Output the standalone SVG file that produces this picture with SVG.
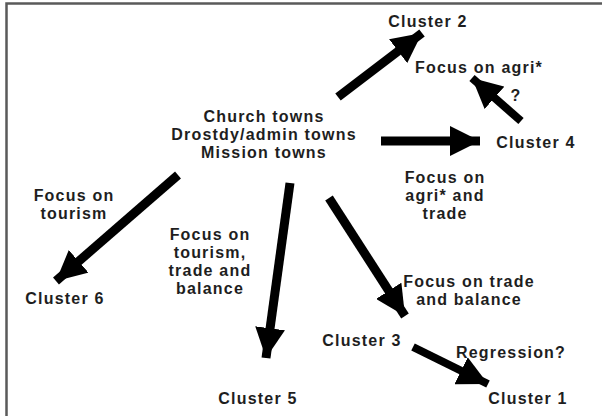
<svg xmlns="http://www.w3.org/2000/svg" width="602" height="416" viewBox="0 0 602 416">
<defs>
<style>
text{font-family:"Liberation Sans",Arial,sans-serif;font-weight:bold;font-size:16px;letter-spacing:1.2px;fill:#1e1e1e;text-anchor:middle}
.arr{stroke:#000;stroke-width:9;fill:none}
.arr2{stroke:#000;stroke-width:8;fill:none}
</style>
<marker id="ah" markerUnits="userSpaceOnUse" markerWidth="30" markerHeight="30" viewBox="0 0 24 24" refX="24" refY="12" orient="auto">
<path d="M0,0 L24,12 L0,24 Z" fill="#000"/>
</marker>
</defs>
<rect width="602" height="416" fill="#fff"/>
<path d="M6.5,416 V3.5 H602" fill="none" stroke="#5a5a5a" stroke-width="2.5"/>
<g id="connectors">
<line class="arr" x1="338" y1="97" x2="422" y2="33" marker-end="url(#ah)"/>
<line class="arr2" x1="521" y1="121" x2="472" y2="78" marker-end="url(#ah)"/>
<line class="arr" x1="381" y1="141" x2="480" y2="141" marker-end="url(#ah)"/>
<line class="arr" x1="178" y1="175" x2="56" y2="281" marker-end="url(#ah)"/>
<line class="arr" x1="290" y1="183" x2="266" y2="358" marker-end="url(#ah)"/>
<line class="arr" x1="329" y1="198" x2="405" y2="316" marker-end="url(#ah)"/>
<line class="arr2" x1="413" y1="347" x2="488" y2="384" marker-end="url(#ah)"/>
</g>
<g id="origin">
<text x="264" y="122">Church towns</text>
<text x="264" y="140">Drostdy/admin towns</text>
<text x="264" y="158">Mission towns</text>
</g>
<g id="cluster2"><text x="428" y="27">Cluster 2</text></g>
<g id="agri"><text x="479" y="73">Focus on agri*</text></g>
<g id="q"><text x="516" y="101">?</text></g>
<g id="cluster4"><text x="536" y="148">Cluster 4</text></g>
<g id="agritrade">
<text x="445" y="183">Focus on</text>
<text x="445" y="201">agri* and</text>
<text x="445" y="219">trade</text>
</g>
<g id="tourism">
<text x="74" y="201">Focus on</text>
<text x="74" y="219">tourism</text>
</g>
<g id="tourismtrade">
<text x="210" y="240">Focus on</text>
<text x="210" y="258">tourism,</text>
<text x="210" y="276">trade and</text>
<text x="210" y="294">balance</text>
</g>
<g id="cluster6"><text x="65" y="304">Cluster 6</text></g>
<g id="tradebalance">
<text x="469" y="287">Focus on trade</text>
<text x="469" y="305">and balance</text>
</g>
<g id="cluster3"><text x="362" y="346">Cluster 3</text></g>
<g id="regression"><text x="511" y="358">Regression?</text></g>
<g id="cluster5"><text x="258" y="404">Cluster 5</text></g>
<g id="cluster1"><text x="528" y="404">Cluster 1</text></g>
</svg>
